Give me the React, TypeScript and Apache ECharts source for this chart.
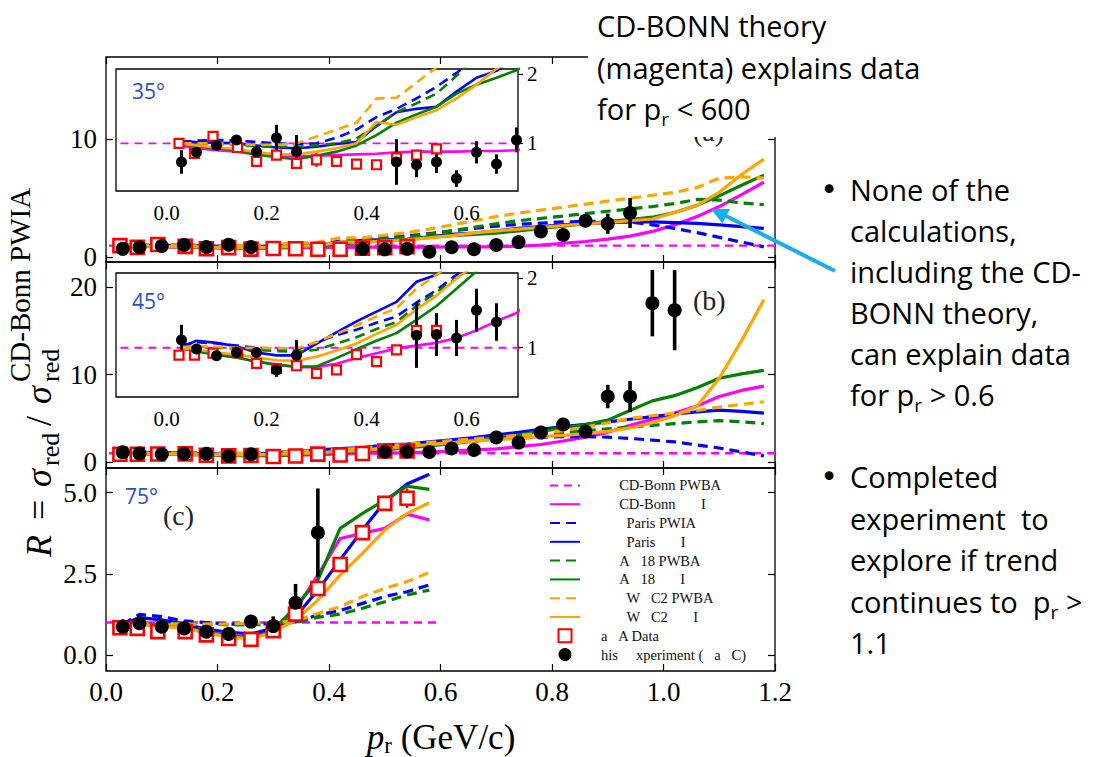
import React, { useEffect, useRef } from 'react';
import * as echarts from 'echarts';

// ---------------- data ----------------
// theory grid (GeV/c) for panels (a) and (b)
const XT = [0.03, 0.06, 0.10, 0.14, 0.18, 0.22, 0.26, 0.30, 0.34, 0.38, 0.42, 0.46, 0.50, 0.54, 0.58, 0.62, 0.66, 0.70, 0.74, 0.78, 0.82, 0.86, 0.90, 0.94, 0.98, 1.02, 1.06, 1.10, 1.14, 1.18];
// theory grid for panel (c)
const XC = [0.03, 0.06, 0.10, 0.14, 0.18, 0.22, 0.26, 0.30, 0.34, 0.38, 0.42, 0.46, 0.50, 0.54, 0.58];

// CD-Bonn PWBA (ratio = 1)
const PWBA_AB_X = [-0.12, 1.2];
const PWBA_C_X = [0, 0.6];
const PWBA_Y = [1, 1];

// panel (a) 35 deg
const A_CDB_FSI = [0.97, 0.93, 0.90, 0.88, 0.84, 0.82, 0.81, 0.82, 0.83, 0.84, 0.85, 0.87, 0.88, 0.88, 0.88, 0.89, 0.89, 0.90, 0.95, 1.05, 1.20, 1.35, 1.55, 1.80, 2.20, 2.75, 3.45, 4.30, 5.30, 6.35];
const A_PARIS_PWIA = [1.02, 1.04, 1.05, 1.04, 1.02, 1.00, 0.99, 1.00, 1.08, 1.20, 1.38, 1.50, 1.65, 1.82, 2.02, 2.25, 2.45, 2.65, 2.80, 2.90, 3.00, 3.05, 3.05, 3.00, 2.75, 2.45, 2.10, 1.70, 1.30, 0.90];
const A_PARIS_FSI = [1.03, 1.02, 1.01, 1.00, 0.97, 0.94, 0.93, 0.95, 0.99, 1.02, 1.25, 1.45, 1.50, 1.53, 1.75, 1.95, 2.05, 2.25, 2.45, 2.60, 2.75, 2.85, 2.95, 3.00, 3.00, 2.95, 2.88, 2.75, 2.60, 2.46];
const A_AV18_PWBA = [1.00, 0.99, 0.99, 0.98, 0.96, 0.95, 0.95, 0.97, 1.00, 1.07, 1.25, 1.45, 1.58, 1.72, 1.98, 2.25, 2.55, 2.85, 3.10, 3.30, 3.50, 3.70, 3.90, 4.10, 4.30, 4.55, 4.90, 4.85, 4.60, 4.45];
const A_AV18_FSI = [1.00, 0.96, 0.93, 0.90, 0.84, 0.80, 0.77, 0.82, 0.88, 0.97, 1.12, 1.30, 1.42, 1.53, 1.72, 1.85, 1.95, 2.06, 2.25, 2.45, 2.65, 2.85, 3.05, 3.20, 3.40, 3.80, 4.40, 5.20, 6.10, 6.95];
const A_WJC2_PWBA = [1.00, 1.00, 1.00, 0.99, 0.98, 0.98, 1.00, 1.10, 1.20, 1.30, 1.65, 1.66, 1.88, 2.10, 2.40, 2.75, 3.10, 3.45, 3.75, 4.00, 4.25, 4.50, 4.75, 5.00, 5.25, 5.50, 5.90, 6.70, 6.80, 6.70];
const A_WJC2_FSI = [1.00, 0.97, 0.94, 0.92, 0.87, 0.84, 0.84, 0.88, 0.93, 1.00, 1.31, 1.27, 1.38, 1.48, 1.65, 1.85, 2.08, 2.25, 2.40, 2.55, 2.70, 2.85, 2.95, 3.10, 3.25, 3.80, 4.40, 5.50, 7.00, 8.30];

// panel (b) 45 deg
const B_CDB_FSI = [0.99, 0.95, 0.90, 0.86, 0.80, 0.76, 0.72, 0.72, 0.77, 0.85, 0.92, 0.99, 1.03, 1.07, 1.14, 1.25, 1.38, 1.50, 1.75, 2.00, 2.40, 2.85, 3.40, 4.20, 4.90, 5.60, 6.40, 7.50, 8.20, 8.70];
const B_PARIS_PWIA = [1.03, 1.08, 1.06, 1.03, 1.00, 0.98, 0.97, 1.08, 1.18, 1.26, 1.36, 1.45, 1.65, 1.83, 2.05, 2.25, 2.45, 2.60, 2.75, 2.85, 2.90, 2.90, 2.85, 2.70, 2.50, 2.30, 1.95, 1.60, 1.15, 0.70];
const B_PARIS_FSI = [1.01, 1.10, 1.07, 1.02, 0.93, 0.89, 0.89, 1.06, 1.22, 1.38, 1.52, 1.66, 1.95, 2.05, 2.30, 2.55, 2.80, 3.10, 3.40, 3.75, 4.05, 4.30, 4.60, 4.90, 5.20, 5.50, 5.75, 5.95, 5.80, 5.60];
const B_AV18_PWBA = [1.00, 1.02, 1.00, 0.99, 0.97, 0.95, 0.94, 0.97, 1.06, 1.15, 1.27, 1.37, 1.60, 1.80, 2.00, 2.20, 2.40, 2.60, 2.85, 3.10, 3.35, 3.60, 3.80, 4.00, 4.20, 4.40, 4.60, 4.75, 4.60, 4.40];
const B_AV18_FSI = [0.99, 0.95, 0.90, 0.86, 0.80, 0.75, 0.73, 0.73, 0.85, 0.98, 1.10, 1.21, 1.40, 1.60, 1.85, 2.10, 2.40, 2.70, 3.10, 3.50, 3.90, 4.30, 4.80, 5.90, 7.00, 7.60, 8.50, 9.60, 10.10, 10.50];
const B_WJC2_PWBA = [1.01, 1.02, 1.01, 1.00, 1.00, 0.99, 0.99, 1.08, 1.20, 1.32, 1.45, 1.57, 1.85, 2.05, 2.25, 2.45, 2.65, 2.85, 3.05, 3.30, 3.60, 4.00, 4.50, 5.00, 5.30, 5.60, 5.90, 6.30, 6.60, 6.90];
const B_WJC2_FSI = [0.99, 0.97, 0.93, 0.90, 0.86, 0.82, 0.81, 0.87, 0.96, 1.06, 1.20, 1.33, 1.55, 1.75, 2.00, 2.20, 2.40, 2.55, 2.75, 2.90, 3.05, 3.25, 3.50, 3.90, 4.50, 5.30, 6.40, 9.60, 13.90, 18.60];

// panel (c) 75 deg
const C_CDB_FSI = [0.92, 0.95, 0.90, 0.85, 0.72, 0.60, 0.55, 0.80, 1.39, 2.46, 3.59, 3.75, 3.90, 4.34, 4.16];
const C_PARIS_PWIA = [0.95, 1.25, 1.18, 1.05, 1.00, 0.95, 0.95, 0.97, 1.02, 1.23, 1.37, 1.59, 1.80, 1.95, 2.16];
const C_PARIS_FSI = [0.95, 1.15, 1.08, 0.95, 0.80, 0.70, 0.65, 0.82, 1.18, 2.00, 2.93, 3.85, 4.72, 5.27, 5.57];
const C_AV18_PWBA = [0.93, 1.00, 0.98, 0.96, 0.95, 0.93, 0.93, 0.95, 1.00, 1.16, 1.26, 1.44, 1.64, 1.85, 2.00];
const C_AV18_FSI = [0.93, 0.95, 0.90, 0.85, 0.70, 0.58, 0.52, 0.75, 1.49, 2.31, 3.90, 4.36, 4.77, 5.20, 5.10];
const C_WJC2_PWBA = [0.93, 0.98, 0.97, 0.95, 0.95, 0.96, 0.98, 1.00, 1.05, 1.28, 1.49, 1.80, 2.05, 2.26, 2.54];
const C_WJC2_FSI = [0.92, 0.93, 0.88, 0.83, 0.68, 0.55, 0.50, 0.70, 1.08, 1.69, 2.46, 3.13, 3.85, 4.36, 4.69];

// Hall A data
const HA_X = [0.025, 0.056, 0.093, 0.142, 0.18, 0.22, 0.26, 0.30, 0.34, 0.38, 0.42, 0.46, 0.50, 0.54];
const HA_A_Y = [1.00, 0.855, 1.10, 0.94, 0.74, 0.83, 0.71, 0.76, 0.74, 0.70, 0.69, 0.79, 0.83, 0.92];
const HA_A_E = [0.03, 0.03, 0.06, 0.03, 0.03, 0.03, 0.04, 0.10, 0.04, 0.04, 0.04, 0.08, 0.08, 0.09];
const HA_B_Y = [0.894, 0.894, 0.92, 0.93, 0.774, 0.70, 0.74, 0.63, 0.68, 0.90, 0.80, 0.97, 1.25, 1.25];
const HA_B_E = [0.03, 0.03, 0.03, 0.03, 0.03, 0.03, 0.03, 0.03, 0.03, 0.04, 0.04, 0.05, 0.15, 0.20];
const HA_C_Y = [0.84, 0.82, 0.72, 0.72, 0.62, 0.51, 0.48, 0.75, 1.26, 2.05, 2.79, 3.77, 4.67, 4.83];
const HA_C_E = [0.03, 0.03, 0.03, 0.03, 0.03, 0.03, 0.03, 0.05, 0.23, 0.10, 0.10, 0.10, 0.20, 0.30];

// This experiment (Hall C)
const TE_A_X = [0.03, 0.06, 0.10, 0.14, 0.18, 0.22, 0.26, 0.46, 0.50, 0.54, 0.58, 0.62, 0.66, 0.70, 0.74, 0.78, 0.82, 0.86, 0.90, 0.94];
const TE_A_Y = [0.73, 0.87, 0.97, 1.05, 0.88, 1.08, 0.88, 0.73, 0.69, 0.73, 0.49, 0.87, 0.70, 1.05, 1.30, 2.20, 1.90, 3.10, 2.85, 3.75];
const TE_A_E = [0.17, 0.05, 0.05, 0.07, 0.08, 0.19, 0.24, 0.33, 0.18, 0.16, 0.12, 0.16, 0.14, 0.18, 0.20, 0.25, 0.30, 0.40, 0.85, 1.27];
const TE_B_X = [0.03, 0.06, 0.10, 0.14, 0.18, 0.22, 0.26, 0.50, 0.54, 0.58, 0.62, 0.66, 0.70, 0.74, 0.78, 0.82, 0.86, 0.90, 0.94, 0.98, 1.02];
const TE_B_Y = [1.11, 0.98, 0.885, 0.93, 0.93, 0.68, 0.89, 1.18, 1.19, 1.14, 1.54, 1.37, 2.80, 2.22, 3.37, 4.30, 3.50, 7.50, 7.50, 18.2, 17.4];
const TE_B_E = [0.22, 0.05, 0.05, 0.05, 0.07, 0.10, 0.22, 0.47, 0.31, 0.26, 0.31, 0.27, 0.30, 0.30, 0.40, 0.50, 0.50, 1.34, 1.78, 3.80, 4.60];
const TE_C_X = [0.03, 0.06, 0.10, 0.14, 0.18, 0.22, 0.26, 0.30, 0.34, 0.38];
const TE_C_Y = [0.87, 0.98, 0.87, 0.82, 0.72, 0.65, 1.03, 0.89, 1.61, 3.77];
const TE_C_E = [0.23, 0.05, 0.05, 0.05, 0.05, 0.05, 0.20, 0.30, 0.58, 1.36];

// tick labels
const X_TICKS = [0, 0.2, 0.4, 0.6, 0.8, 1.0, 1.2];
const INSET_X_TICKS = [0, 0.2, 0.4, 0.6];
const INSET_Y_TICKS = [1, 2];
const A_Y_TICKS = [0, 10];
const B_Y_TICKS = [0, 10, 20];
const C_Y_TICKS = [0, 2.5, 5];

// legend labels (as printed)
const nb = (n: number) => '\u00a0'.repeat(n);
const LEGEND_NAMES = [
  nb(5) + 'CD-Bonn PWBA',
  nb(5) + 'CD-Bonn' + nb(7) + 'I',
  nb(7) + 'Paris PWIA',
  nb(7) + 'Paris' + nb(7) + 'I',
  nb(5) + 'A' + nb(3) + '18 PWBA',
  nb(5) + 'A' + nb(3) + '18' + nb(7) + 'I',
  nb(7) + 'W' + nb(3) + 'C2 PWBA',
  nb(7) + 'W' + nb(3) + 'C2' + nb(7) + 'I',
  'a' + nb(3) + 'A Data',
  'his' + nb(5) + 'xperiment (' + nb(3) + 'a' + nb(3) + 'C)',
];

// ---------------- styling ----------------
const SERIF = '"Liberation Serif", "Times New Roman", serif';
const SANS = '"Open Sans", "Noto Sans", sans-serif';
const MAG = '#FF00FF';
const BLUE = '#0000FF';
const GREEN = '#008000';
const ORANGE = '#FFA500';
const ANGLE_BLUE = '#2A4FC6';
const ARROW = '#19AEE8';
const SQUARE = 'path://M0,0L10,0L10,10L0,10Z';

const MODELS = [
  { color: MAG, dash: true, thin: true },
  { color: MAG, dash: false },
  { color: BLUE, dash: true },
  { color: BLUE, dash: false },
  { color: GREEN, dash: true },
  { color: GREEN, dash: false },
  { color: ORANGE, dash: true },
  { color: ORANGE, dash: false },
];

function lineSeries(mi: number, xs: number[], ys: number[], xi: number, yi: number, z: number, w: number) {
  const m: any = MODELS[mi];
  const width = m.thin ? w * 0.75 : w;
  return {
    type: 'line',
    name: LEGEND_NAMES[mi],
    xAxisIndex: xi,
    yAxisIndex: yi,
    data: xs.map((x, i) => [x, ys[i]]),
    symbol: 'none',
    smooth: false,
    clip: true,
    silent: true,
    z,
    itemStyle: { color: m.color },
    lineStyle: { color: m.color, width, type: m.dash ? (m.thin ? [8, 6] : [10, 6]) : 'solid' },
  };
}

function errSeries(xs: number[], ys: number[], es: number[], color: string, width: number, xi: number, yi: number, z: number) {
  return {
    type: 'custom',
    name: '_err',
    xAxisIndex: xi,
    yAxisIndex: yi,
    z,
    silent: true,
    clip: true,
    data: xs.map((x, i) => [x, ys[i], es[i]]),
    encode: { x: 0, y: 1 },
    renderItem: (_p: any, api: any) => {
      const x = api.value(0);
      const y = api.value(1);
      const e = api.value(2);
      const p1 = api.coord([x, y - e]);
      const p2 = api.coord([x, y + e]);
      return {
        type: 'line',
        shape: { x1: p1[0], y1: p1[1], x2: p2[0], y2: p2[1] },
        style: { stroke: color, lineWidth: width },
      };
    },
  };
}

function hallASeries(ys: number[], xi: number, yi: number, z: number, size: number, bw: number) {
  return {
    type: 'scatter',
    name: LEGEND_NAMES[8],
    xAxisIndex: xi,
    yAxisIndex: yi,
    z,
    silent: true,
    clip: true,
    symbol: SQUARE,
    symbolSize: size,
    itemStyle: { color: '#FFFFFF', borderColor: '#FF0000', borderWidth: bw, opacity: 1 },
    data: HA_X.map((x, i) => [x, ys[i]]),
  };
}

function expSeries(xs: number[], ys: number[], xi: number, yi: number, z: number, size: number) {
  return {
    type: 'scatter',
    name: LEGEND_NAMES[9],
    xAxisIndex: xi,
    yAxisIndex: yi,
    z,
    silent: true,
    clip: true,
    symbol: 'circle',
    symbolSize: size,
    itemStyle: { color: '#000000', opacity: 1 },
    data: xs.map((x, i) => [x, ys[i]]),
  };
}

function panelSeries(curves: number[][], xs: number[], pwbaX: number[], haY: number[], haE: number[], teX: number[], teY: number[], teE: number[], xi: number, yi: number, inset: boolean) {
  const zl = inset ? 6 : 2;
  const lw = inset ? 2.6 : 3.2;
  const out: any[] = [];
  out.push(lineSeries(0, pwbaX, PWBA_Y, xi, yi, zl, lw));
  curves.forEach((c, k) => out.push(lineSeries(k + 1, xs, c, xi, yi, zl, lw)));
  out.push(errSeries(HA_X, haY, haE, '#FF0000', inset ? 2.4 : 2.6, xi, yi, zl + 1));
  out.push(hallASeries(haY, xi, yi, zl + 2, inset ? 9 : 13, inset ? 2.2 : 2.6));
  out.push(errSeries(teX, teY, teE, '#000000', inset ? 3 : 3.6, xi, yi, zl + 1));
  out.push(expSeries(teX, teY, xi, yi, zl + 2, inset ? 11 : 14));
  return out;
}

const tickStyle = { color: '#000', width: 1.2 };

function mainX(gridIndex: number, position: string, showLabel: boolean) {
  return {
    type: 'value', gridIndex, position, min: 0, max: 1.2, interval: 0.2,
    axisLine: { show: false, onZero: false },
    axisTick: { show: true, inside: true, length: 7, lineStyle: tickStyle },
    axisLabel: {
      show: showLabel, color: '#000', fontFamily: SERIF, fontSize: 27, margin: 7,
      customValues: X_TICKS,
      formatter: (v: number) => v.toFixed(1),
    },
    splitLine: { show: false },
  };
}

function mainY(gridIndex: number, position: string, min: number, max: number, ticks: number[], showLabel: boolean, dec: number) {
  return {
    type: 'value', gridIndex, position, min, max,
    axisLine: { show: false, onZero: false },
    axisTick: { show: true, inside: true, length: 7, lineStyle: tickStyle, customValues: ticks },
    axisLabel: {
      show: showLabel, color: '#000', fontFamily: SERIF, fontSize: 27, margin: 9,
      customValues: ticks,
      formatter: (v: number) => v.toFixed(dec),
    },
    splitLine: { show: false },
  };
}

function insetX(gridIndex: number) {
  return {
    type: 'value', gridIndex, position: 'bottom', min: -0.101, max: 0.703, z: 9,
    axisLine: { show: false, onZero: false },
    axisTick: { show: false },
    axisLabel: {
      show: true, color: '#000', fontFamily: SERIF, fontSize: 21, margin: 11,
      customValues: INSET_X_TICKS,
      formatter: (v: number) => Math.abs(v).toFixed(1),
    },
    splitLine: { show: false },
  };
}

function insetY(gridIndex: number, min: number, max: number) {
  return {
    type: 'value', gridIndex, position: 'right', min, max, z: 9,
    axisLine: { show: false, onZero: false },
    axisTick: { show: true, inside: false, length: 5, lineStyle: tickStyle, customValues: INSET_Y_TICKS },
    axisLabel: {
      show: true, color: '#000', fontFamily: SERIF, fontSize: 21, margin: 9,
      customValues: INSET_Y_TICKS,
      formatter: (v: number) => String(Math.round(v)),
    },
    splitLine: { show: false },
  };
}

function txt(x: number, y: number, text: string, font: string, color = '#000', z = 20, align = 'left') {
  return {
    type: 'text', x, y, z, silent: true,
    style: { text, font, fill: color, textAlign: align, textVerticalAlign: 'middle' },
  };
}

function richLine(x: number, y: number, parts: string, z = 20) {
  return {
    type: 'text', x, y, z, silent: true,
    style: {
      text: parts,
      textAlign: 'left',
      textVerticalAlign: 'middle',
      fill: '#000',
      rich: {
        a: { fontFamily: SANS, fontSize: 29, lineHeight: 40, fill: '#000', color: '#000' },
        s: { fontFamily: SANS, fontSize: 19, lineHeight: 24, verticalAlign: 'bottom', fill: '#000', color: '#000' },
      },
    },
  };
}

function buildOption() {
  const A_CURVES = [A_CDB_FSI, A_PARIS_PWIA, A_PARIS_FSI, A_AV18_PWBA, A_AV18_FSI, A_WJC2_PWBA, A_WJC2_FSI];
  const B_CURVES = [B_CDB_FSI, B_PARIS_PWIA, B_PARIS_FSI, B_AV18_PWBA, B_AV18_FSI, B_WJC2_PWBA, B_WJC2_FSI];
  const C_CURVES = [C_CDB_FSI, C_PARIS_PWIA, C_PARIS_FSI, C_AV18_PWBA, C_AV18_FSI, C_WJC2_PWBA, C_WJC2_FSI];

  const mainGrid = { show: true, borderColor: '#000', borderWidth: 1.3, backgroundColor: 'transparent', containLabel: false, outerBoundsMode: 'none' };
  const insetGrid = { show: true, borderColor: '#000', borderWidth: 1.3, backgroundColor: '#FFFFFF', containLabel: false, outerBoundsMode: 'none', z: 5 };

  const grid = [
    { ...mainGrid, left: 106, top: 57, width: 669, height: 205 },
    { ...mainGrid, left: 106, top: 262, width: 669, height: 206 },
    { ...mainGrid, left: 106, top: 468, width: 669, height: 203 },
    { ...insetGrid, left: 116, top: 69, width: 402, height: 122 },
    { ...insetGrid, left: 116, top: 273, width: 402, height: 124 },
  ];

  const xAxis = [
    mainX(0, 'bottom', false), mainX(0, 'top', false),
    mainX(1, 'bottom', false), mainX(1, 'top', false),
    mainX(2, 'bottom', true), mainX(2, 'top', false),
    insetX(3), insetX(4),
  ];
  const yAxis = [
    mainY(0, 'left', -0.38, 16.92, A_Y_TICKS, true, 0), mainY(0, 'right', -0.38, 16.92, A_Y_TICKS, false, 0),
    mainY(1, 'left', -0.69, 22.92, B_Y_TICKS, true, 0), mainY(1, 'right', -0.69, 22.92, B_Y_TICKS, false, 0),
    mainY(2, 'left', -0.493, 5.761, C_Y_TICKS, true, 1), mainY(2, 'right', -0.493, 5.761, C_Y_TICKS, false, 1),
    insetY(3, 0.31, 2.077), insetY(4, 0.29, 2.076),
  ];

  const series = [
    ...panelSeries(A_CURVES, XT, PWBA_AB_X, HA_A_Y, HA_A_E, TE_A_X, TE_A_Y, TE_A_E, 0, 0, false),
    ...panelSeries(B_CURVES, XT, PWBA_AB_X, HA_B_Y, HA_B_E, TE_B_X, TE_B_Y, TE_B_E, 2, 2, false),
    ...panelSeries(C_CURVES, XC, PWBA_C_X, HA_C_Y, HA_C_E, TE_C_X, TE_C_Y, TE_C_E, 4, 4, false),
    ...panelSeries(A_CURVES, XT, PWBA_AB_X, HA_A_Y, HA_A_E, TE_A_X, TE_A_Y, TE_A_E, 6, 6, true),
    ...panelSeries(B_CURVES, XT, PWBA_AB_X, HA_B_Y, HA_B_E, TE_B_X, TE_B_Y, TE_B_E, 7, 7, true),
  ];

  const mainFont = `36px ${SERIF}`;
  const italicFont = `italic 36px ${SERIF}`;
  const subFont = `26px ${SERIF}`;
  const supFont = `29px ${SERIF}`;

  const legendData = LEGEND_NAMES.map((name, i) =>
    i < 8 ? { name, itemStyle: { opacity: 0 } } : { name }
  );

  const graphic: any[] = [
    // panel labels
    txt(693, 131, '(a)', `28px ${SERIF}`, '#222', 10),
    txt(693, 300, '(b)', `28px ${SERIF}`, '#222', 20),
    txt(163, 515, '(c)', `28px ${SERIF}`, '#222', 20),
    // angles
    txt(132, 91, '35°', `21px ${SANS}`, ANGLE_BLUE, 20),
    txt(132, 301, '45°', `21px ${SANS}`, ANGLE_BLUE, 20),
    txt(125, 496, '75°', `21px ${SANS}`, ANGLE_BLUE, 20),
    // white box behind top text
    { type: 'rect', z: 15, silent: true, shape: { x: 588, y: 0, width: 360, height: 137 }, style: { fill: '#FFFFFF' } },
    txt(597, 25, 'CD-BONN theory', `29px ${SANS}`),
    txt(597, 67, '(magenta) explains data', `29px ${SANS}`),
    richLine(597, 108, '{a|for p}{s|r}{a|\u00a0<\u00a0600}'),
    // right bullets
    txt(829, 189, '•', `30px "DejaVu Sans", sans-serif`, '#000', 20, 'center'),
    txt(850, 189, 'None of the', `29px ${SANS}`),
    txt(850, 230, 'calculations,', `29px ${SANS}`),
    txt(850, 271, 'including the CD-', `29px ${SANS}`),
    txt(850, 312, 'BONN theory,', `29px ${SANS}`),
    txt(850, 353, 'can explain data', `29px ${SANS}`),
    richLine(850, 394, '{a|for p}{s|r}{a|\u00a0>\u00a00.6}'),
    txt(829, 476, '•', `30px "DejaVu Sans", sans-serif`, '#000', 20, 'center'),
    txt(850, 476, 'Completed', `29px ${SANS}`),
    txt(850, 518, 'experiment\u00a0\u00a0to', `29px ${SANS}`),
    txt(850, 559, 'explore if trend', `29px ${SANS}`),
    richLine(850, 601, '{a|continues to\u00a0\u00a0p}{s|r}{a|\u00a0>}'),
    txt(850, 642, '1.1', `29px ${SANS}`),
    // arrow
    { type: 'line', z: 21, silent: true, shape: { x1: 835, y1: 271, x2: 726, y2: 216 }, style: { stroke: ARROW, lineWidth: 4 } },
    { type: 'polygon', z: 21, silent: true, shape: { points: [[711, 209], [730, 209], [722.5, 223.5]] }, style: { fill: ARROW } },
    // x axis title
    {
      type: 'text', x: 441, y: 737, z: 20, silent: true,
      style: {
        text: '{i|p}{s|r}{n|\u00a0(GeV/c)}',
        textAlign: 'center', textVerticalAlign: 'middle',
        rich: {
          i: { fontFamily: SERIF, fontStyle: 'italic', fontSize: 35, lineHeight: 40, fill: '#000', color: '#000' },
          s: { fontFamily: SERIF, fontSize: 23, lineHeight: 24, verticalAlign: 'bottom', fill: '#000', color: '#000' },
          n: { fontFamily: SERIF, fontSize: 35, lineHeight: 40, fill: '#000', color: '#000' },
        },
      },
    },
    // y axis title (rotated)
    {
      type: 'group', x: 39, y: 557, rotation: Math.PI / 2, z: 20, silent: true,
      children: [
        { type: 'text', x: 0, y: 0, style: { text: 'R', font: italicFont, fill: '#000', textVerticalAlign: 'middle' } },
        { type: 'text', x: 37, y: 0, style: { text: '=', font: mainFont, fill: '#000', textVerticalAlign: 'middle' } },
        { type: 'text', x: 70, y: 0, style: { text: 'σ', font: italicFont, fill: '#000', textVerticalAlign: 'middle' } },
        { type: 'text', x: 91, y: 11, style: { text: 'red', font: subFont, fill: '#000', textVerticalAlign: 'middle' } },
        { type: 'text', x: 131, y: 0, style: { text: '/', font: mainFont, fill: '#000', textVerticalAlign: 'middle' } },
        { type: 'text', x: 153, y: 0, style: { text: 'σ', font: italicFont, fill: '#000', textVerticalAlign: 'middle' } },
        { type: 'text', x: 175, y: 11, style: { text: 'red', font: subFont, fill: '#000', textVerticalAlign: 'middle' } },
        { type: 'text', x: 175, y: -19, style: { text: 'CD-Bonn PWIA', font: supFont, fill: '#000', textVerticalAlign: 'middle' } },
      ],
    },
  ];

  return {
    animation: false,
    backgroundColor: '#FFFFFF',
    grid,
    xAxis,
    yAxis,
    series,
    legend: {
      show: true,
      orient: 'vertical',
      left: 549,
      top: 476,
      padding: 0,
      itemWidth: 30,
      itemHeight: 13,
      itemGap: 0,
      selectedMode: false,
      z: 12,
      data: legendData,
      textStyle: { fontFamily: SERIF, fontSize: 14.5, color: '#111', lineHeight: 18.8, padding: [0, 0, 0, 16] },
    },
    graphic,
  };
}

export default function App() {
  const ref = useRef<HTMLDivElement>(null);
  useEffect(() => {
    if (!ref.current) return;
    const chart = echarts.init(ref.current, null, { renderer: 'svg' });
    chart.setOption(buildOption() as any);
    return () => chart.dispose();
  }, []);
  return (
    <div
      ref={ref}
      style={{ position: 'fixed', left: 0, top: 0, width: 1105, height: 757, background: '#FFFFFF' }}
    />
  );
}
